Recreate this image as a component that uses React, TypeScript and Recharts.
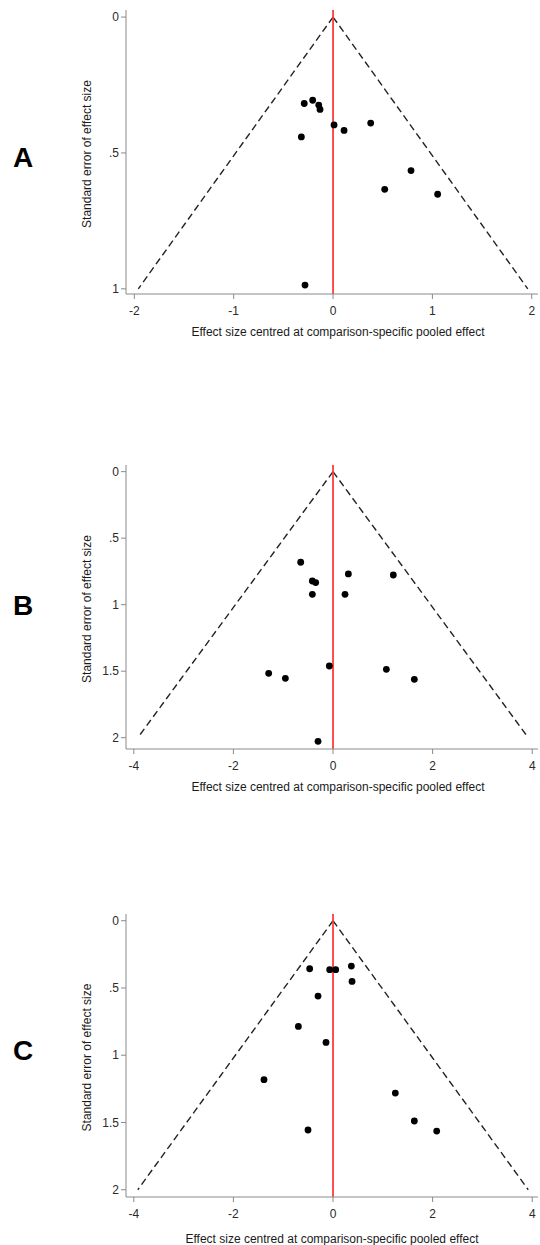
import React from "react"
import { ScatterChart, Scatter, XAxis, YAxis, ReferenceLine, Label } from "recharts"

// panel A: effect size (centred) and its standard error
const aEffect = [-0.29, -0.205, -0.144, -0.131, 0.01, 0.111, 0.379, -0.319, 0.785, 0.52, 1.053, -0.282]
const aSE = [0.318, 0.306, 0.324, 0.34, 0.397, 0.417, 0.39, 0.441, 0.565, 0.634, 0.652, 0.986]

// panel B
const bEffect = [-0.649, -0.415, -0.348, -0.415, 0.308, 1.211, 0.241, -1.292, -0.957, -0.074, 1.071, 1.633, -0.301]
const bSE = [0.681, 0.822, 0.834, 0.922, 0.769, 0.777, 0.922, 1.516, 1.554, 1.461, 1.486, 1.561, 2.027]

// panel C
const cEffect = [-0.469, -0.067, 0.054, 0.368, 0.382, -0.301, -0.696, -0.141, -1.386, 1.251, 1.633, -0.502, 2.082]
const cSE = [0.357, 0.364, 0.364, 0.337, 0.451, 0.56, 0.786, 0.905, 1.182, 1.281, 1.489, 1.556, 1.564]

const xTicksA = [-2, -1, 0, 1, 2]
const xTicksBC = [-4, -2, 0, 2, 4]
const yTicksA = [0, 0.5, 1]
const yTicksBC = [0, 0.5, 1, 1.5, 2]

const Z = 1.96
const FONT = '"Liberation Sans", Arial, Helvetica, sans-serif'
const X_TITLE = "Effect size centred at comparison-specific pooled effect"
const Y_TITLE = "Standard error of effect size"

const fmt = (v: number) => String(v).replace(/^0\./, ".")

type PanelProps = {
  letter: string
  effect: number[]
  se: number[]
  seMax: number
  xDomain: [number, number]
  yDomain: [number, number]
  xTicks: number[]
  yTicks: number[]
  top: number
  height: number
  plotH: number
  letterY: number
  titleX: number
  titleDy: number
}

function Panel(p: PanelProps) {
  const data = p.effect.map((x, i) => ({ x, y: p.se[i] }))
  const xAxisH = p.height - 10 - p.plotH
  return (
    <div style={{ position: "absolute", left: 0, top: p.top, width: 540, height: p.height }}>
      <ScatterChart width={540} height={p.height} margin={{ top: 10, right: 2, bottom: 0, left: 0 }}>
        <XAxis
          type="number"
          dataKey="x"
          domain={p.xDomain}
          ticks={p.xTicks}
          interval={0}
          allowDataOverflow
          height={xAxisH}
          tickSize={5}
          tickMargin={7}
          stroke="#8a8a8a"
          tick={{ fill: "#2a2a2a", fontSize: 12, fontFamily: FONT }}
        >
          <Label
            content={(lp: any) => (
              <text
                x={p.titleX}
                y={lp.viewBox.y + p.titleDy}
                textAnchor="middle"
                fill="#1a1a1a"
                fontSize={12}
                fontFamily={FONT}
              >
                {X_TITLE}
              </text>
            )}
          />
        </XAxis>
        <YAxis
          type="number"
          dataKey="y"
          reversed
          domain={p.yDomain}
          ticks={p.yTicks}
          interval={0}
          allowDataOverflow
          width={126}
          tickSize={5}
          tickMargin={2}
          tickFormatter={fmt}
          stroke="#8a8a8a"
          tick={{ fill: "#2a2a2a", fontSize: 12, fontFamily: FONT }}
        >
          <Label
            content={(lp: any) => {
              const cy = lp.viewBox.y + lp.viewBox.height / 2 + 2
              return (
                <g>
                  <text
                    x={91}
                    y={cy}
                    transform={`rotate(-90, 91, ${cy})`}
                    textAnchor="middle"
                    fill="#1a1a1a"
                    fontSize={12}
                    fontFamily={FONT}
                  >
                    {Y_TITLE}
                  </text>
                  <text x={13} y={p.letterY} fill="#000" fontSize={28} fontWeight="bold" fontFamily={FONT}>
                    {p.letter}
                  </text>
                </g>
              )
            }}
          />
        </YAxis>
        <ReferenceLine
          segment={[{ x: 0, y: 0 }, { x: -Z * p.seMax, y: p.seMax }]}
          stroke="#222"
          strokeWidth={1.4}
          strokeDasharray="7 4"
          ifOverflow="visible"
        />
        <ReferenceLine
          segment={[{ x: 0, y: 0 }, { x: Z * p.seMax, y: p.seMax }]}
          stroke="#222"
          strokeWidth={1.4}
          strokeDasharray="7 4"
          ifOverflow="visible"
        />
        <ReferenceLine x={0} stroke="#ff3b3b" strokeWidth={1.8} />
        <Scatter
          data={data}
          isAnimationActive={false}
          shape={(sp: any) => <circle cx={sp.cx} cy={sp.cy} r={3.4} fill="#000" />}
        />
      </ScatterChart>
    </div>
  )
}

export default function App() {
  return (
    <div
      style={{
        position: "absolute",
        left: 0,
        top: 0,
        width: 540,
        height: 1245,
        background: "#fff",
        overflow: "hidden",
      }}
    >
      <Panel
        letter="A"
        effect={aEffect}
        se={aSE}
        seMax={1}
        xDomain={[-2.084, 2.063]}
        yDomain={[-0.026, 1.019]}
        xTicks={xTicksA}
        yTicks={yTicksA}
        top={0}
        height={345}
        plotH={284}
        letterY={166.7}
        titleX={338}
        titleDy={42}
      />
      <Panel
        letter="B"
        effect={bEffect}
        se={bSE}
        seMax={2}
        xDomain={[-4.157, 4.116]}
        yDomain={[-0.05, 2.085]}
        xTicks={xTicksBC}
        yTicks={yTicksBC}
        top={455}
        height={345}
        plotH={284}
        letterY={160}
        titleX={338}
        titleDy={42}
      />
      <Panel
        letter="C"
        effect={cEffect}
        se={cSE}
        seMax={2}
        xDomain={[-4.157, 4.116]}
        yDomain={[-0.05, 2.054]}
        xTicks={xTicksBC}
        yTicks={yTicksBC}
        top={904}
        height={341}
        plotH={283}
        letterY={156}
        titleX={332}
        titleDy={46}
      />
    </div>
  )
}
